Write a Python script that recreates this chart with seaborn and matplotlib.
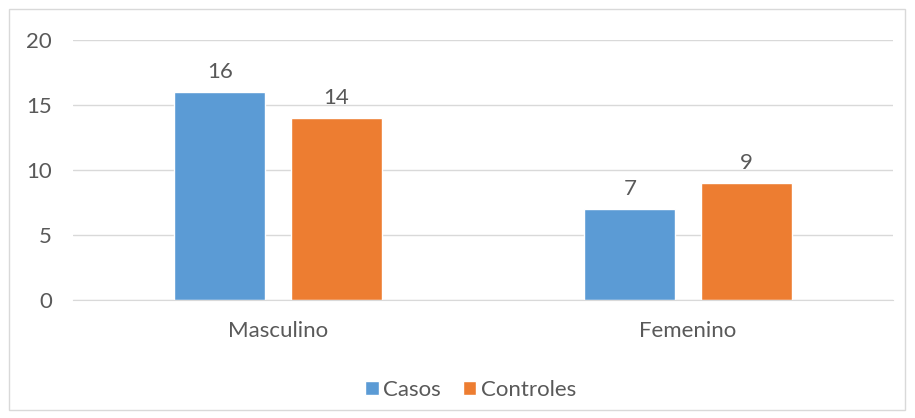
import pandas as pd
import matplotlib.pyplot as plt
import seaborn as sns
from matplotlib.patches import Rectangle

# datos
categorias = ['Masculino', 'Femenino']
casos = [16, 7]
controles = [14, 9]
series = ['Casos', 'Controles']
colores = ['#5B9BD5', '#ED7D31']

df = pd.DataFrame({
    'sexo': categorias * 2,
    'grupo': [series[0]] * 2 + [series[1]] * 2,
    'valor': casos + controles,
})

sns.set_style('white')
plt.rcParams['font.family'] = ['Lato', 'DejaVu Sans']
txt = '#595959'
fs = 16

fig = plt.figure(figsize=(9.15, 4.18), dpi=100)
ax = fig.add_axes([73 / 915, 1 - 300 / 418, 820 / 915, 260 / 418])

sns.barplot(data=df, x='sexo', y='valor', hue='grupo', order=categorias,
            hue_order=series, palette=colores, width=0.568, gap=0.22,
            saturation=1, ax=ax, legend=True)

ax.set_ylim(0, 20)
ax.set_xlim(-0.5, 1.5)
ax.set_yticks([0, 5, 10, 15, 20])
ax.yaxis.grid(True, color='#d9d9d9', linewidth=1)
ax.set_axisbelow(True)
for s in ['top', 'right', 'left']:
    ax.spines[s].set_visible(False)
ax.spines['bottom'].set_color('#d9d9d9')
ax.tick_params(axis='both', length=0, labelsize=fs, colors=txt)
ax.tick_params(axis='y', pad=15)
ax.tick_params(axis='x', pad=15)
ax.set_xlabel('')
ax.set_ylabel('')

for cont in ax.containers:
    ax.bar_label(cont, padding=7, fontsize=fs, color=txt)

leg = ax.legend(loc='upper center', bbox_to_anchor=(0.485, -0.265), ncol=2,
                frameon=False, fontsize=fs, handlelength=0.6, handleheight=0.6,
                handletextpad=0.2, columnspacing=1.0, borderpad=0)
for t in leg.get_texts():
    t.set_color(txt)

fig.patches.append(Rectangle((9 / 915, 8 / 418), 896 / 915, 401 / 418,
                             transform=fig.transFigure, fill=False,
                             edgecolor='#d9d9d9', linewidth=1))

fig.savefig('out.png', dpi=100)
